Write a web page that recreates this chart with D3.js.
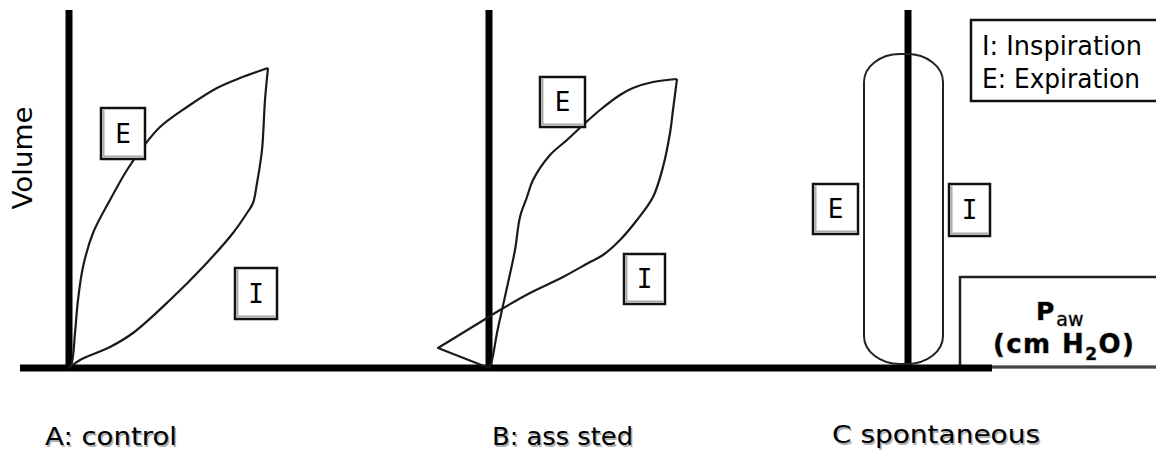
<!DOCTYPE html>
<html>
<head>
<meta charset="utf-8">
<script src="https://cdn.jsdelivr.net/npm/d3@7"></script>
<style>
  body { margin: 0; background: #fff; }
  svg { display: block; font-family: "DejaVu Sans", Verdana, sans-serif; }
</style>
</head>
<body>
<svg id="chart" width="1156" height="454"></svg>
<script>
// panel captions
var panelNames = ["A: control", "B: ass sted", "C  spontaneous"];
var legendLines = ["I: Inspiration", "E: Expiration"];

// pressure / volume loops, [pressure, volume]
var loopA_insp = [[0,0],[2.2,16],[8.2,42],[12.8,70],[20.2,136],[26.8,202],[32.8,270],[35.6,310],
    [36.8,330],[37.6,370],[38.6,436],[39.2,536],[39.8,600]];
var loopA_exp = [[39.8,600],[34.2,580],[29.6,560],[23.6,522],[18.2,482],[14.8,442],[11.6,396],
    [8.2,336],[4.8,270],[2.8,202],[1.8,136],[1.2,70],[0.6,12],[0,0]];

var loopB_trigger = [[0,0],[-10.2,40],[-0.4,100]];
var loopB_insp = [[-0.4,100],[2.2,116],[8.2,150],[14.8,182],[20.2,212],[22.8,226],[26.2,256],
    [29.6,296],[32.8,342],[34.8,402],[36.2,470],[36.8,516],[37.6,578]];
var loopB_exp = [[37.6,578],[32.8,572],[28.8,560],[26.2,546],[22.2,516],[18.8,486],[15.6,456],
    [12.2,426],[8.8,376],[7.6,342],[6.2,302],[5.2,236],[3.8,170],[2.6,116],[1.6,70],[0.6,16],[0,0]];

// spontaneous: pressure range and volume range of the pill shaped loop
var loopC_pressure = [-8.8, 7.0];
var loopC_volume = [8, 628];

var svg = d3.select("#chart");

var y = d3.scaleLinear().domain([0, 720]).range([368, 8]);
var xA = d3.scaleLinear().domain([0, 40]).range([69, 269]);
var xB = d3.scaleLinear().domain([0, 40]).range([489, 689]);
var xC = d3.scaleLinear().domain([0, 40]).range([908, 1108]);

function lineFor(xs, curve) {
    return d3.line()
        .x(function(d) { return xs(d[0]); })
        .y(function(d) { return y(d[1]); })
        .curve(curve);
}

// Paw box (behind the axis)
svg.append("rect")
    .attr("x", 960).attr("y", 277)
    .attr("width", 220).attr("height", 90)
    .attr("fill", "#fff").attr("stroke", "#222").attr("stroke-width", 2.5);
svg.append("line")
    .attr("x1", 960).attr("x2", 1156).attr("y1", 367).attr("y2", 367)
    .attr("stroke", "#444").attr("stroke-width", 3);

// legend box
svg.append("rect")
    .attr("x", 971).attr("y", 20)
    .attr("width", 220).attr("height", 81)
    .attr("fill", "#fff").attr("stroke", "#111").attr("stroke-width", 2.5);

// axes
svg.append("line")
    .attr("x1", xA(-9.8)).attr("x2", xA(184.6))
    .attr("y1", y(0)).attr("y2", y(0))
    .attr("stroke", "#000").attr("stroke-width", 7);

[xA, xB, xC].forEach(function(xs) {
    svg.append("line")
        .attr("x1", xs(0)).attr("x2", xs(0))
        .attr("y1", y(0) + 3).attr("y2", y(716))
        .attr("stroke", "#000").attr("stroke-width", 7);
});

// loops
var loops = [
    {xs: xA, pts: loopA_insp, curve: d3.curveCatmullRom},
    {xs: xA, pts: loopA_exp, curve: d3.curveCatmullRom},
    {xs: xB, pts: loopB_trigger, curve: d3.curveLinear},
    {xs: xB, pts: loopB_insp, curve: d3.curveCatmullRom},
    {xs: xB, pts: loopB_exp, curve: d3.curveCatmullRom}
];
loops.forEach(function(l) {
    svg.append("path")
        .datum(l.pts)
        .attr("d", lineFor(l.xs, l.curve))
        .attr("fill", "none")
        .attr("stroke", "#1a1a1a")
        .attr("stroke-width", 2.2)
        .attr("stroke-linejoin", "round");
});

svg.append("rect")
    .attr("x", xC(loopC_pressure[0]))
    .attr("y", y(loopC_volume[1]))
    .attr("width", xC(loopC_pressure[1]) - xC(loopC_pressure[0]))
    .attr("height", y(loopC_volume[0]) - y(loopC_volume[1]))
    .attr("rx", 36).attr("ry", 28)
    .attr("fill", "none").attr("stroke", "#222").attr("stroke-width", 2);

// little letter boxes
function letterBox(x0, y0, w, h, letter) {
    var g = svg.append("g");
    g.append("rect")
        .attr("x", x0).attr("y", y0).attr("width", w).attr("height", h)
        .attr("fill", "#fff").attr("stroke", "#111").attr("stroke-width", 2.5);
    g.append("path")
        .attr("d", "M" + (x0 + 2.5) + "," + (y0 + 2) + "V" + (y0 + h - 2.5) + "H" + (x0 + w - 2))
        .attr("fill", "none").attr("stroke", "#aaa").attr("stroke-width", 2);
    g.append("text")
        .attr("x", x0 + w / 2).attr("y", y0 + h / 2 + 9)
        .attr("text-anchor", "middle")
        .style("font-family", "'DejaVu Sans Mono', monospace")
        .style("font-size", "26px")
        .text(letter);
}
letterBox(101, 108, 44, 51, "E");
letterBox(235, 268, 42, 51, "I");
letterBox(540, 77, 45, 50, "E");
letterBox(624, 254, 41, 50, "I");
letterBox(813, 184, 45, 50, "E");
letterBox(949, 184, 41, 52, "I");

// legend text
svg.selectAll("text.legend")
    .data(legendLines)
    .enter()
    .append("text")
    .attr("class", "legend")
    .attr("x", 982)
    .attr("y", function(d, i) { return 55 + i * 33; })
    .attr("textLength", function(d, i) { return i === 0 ? 160 : 158; })
    .attr("lengthAdjust", "spacingAndGlyphs")
    .style("font-size", "26px")
    .text(function(d) { return d; });

// Volume label
svg.append("text")
    .attr("transform", "translate(32,158) rotate(-90)")
    .attr("text-anchor", "middle")
    .attr("textLength", 103)
    .attr("lengthAdjust", "spacingAndGlyphs")
    .style("font-size", "26px")
    .text("Volume");

// Paw text, grey shadow drawn as a stroke under the glyphs
var pawG = svg.append("g");
var pText = pawG.append("text")
    .attr("x", 1036).attr("y", 320)
    .style("font-size", "25px").style("font-weight", "bold");
pText.append("tspan").text("P");
pText.append("tspan")
    .attr("dx", 2).attr("dy", 6)
    .style("font-size", "19px").style("font-weight", "normal")
    .text("aw");

var cmText = pawG.append("text")
    .attr("x", 993).attr("y", 353)
    .style("font-size", "26px").style("font-weight", "bold")
    .style("letter-spacing", "1.4px");
cmText.append("tspan").text("(cm H");
cmText.append("tspan").attr("dy", 7).style("font-size", "17px").text("2");
cmText.append("tspan").attr("dy", -7).text("O)");

pawG.selectAll("text")
    .attr("fill", "#000")
    .attr("stroke", "#bbb")
    .attr("stroke-width", 1.2)
    .attr("paint-order", "stroke");

// panel captions with shadow
var captionX = [45, 492, 832];
var captionW = [132, 141, 208];
var captionY = [445, 445, 443];
[["#b0b0b0", 1.5], ["#000", 0]].forEach(function(s) {
    svg.selectAll(null)
        .data(panelNames)
        .enter()
        .append("text")
        .attr("x", function(d, i) { return captionX[i] + s[1]; })
        .attr("y", function(d, i) { return captionY[i] + s[1]; })
        .attr("textLength", function(d, i) { return captionW[i]; })
        .attr("lengthAdjust", "spacingAndGlyphs")
        .attr("fill", s[0])
        .style("font-size", "24px")
        .text(function(d) { return d; });
});
</script>
</body>
</html>
